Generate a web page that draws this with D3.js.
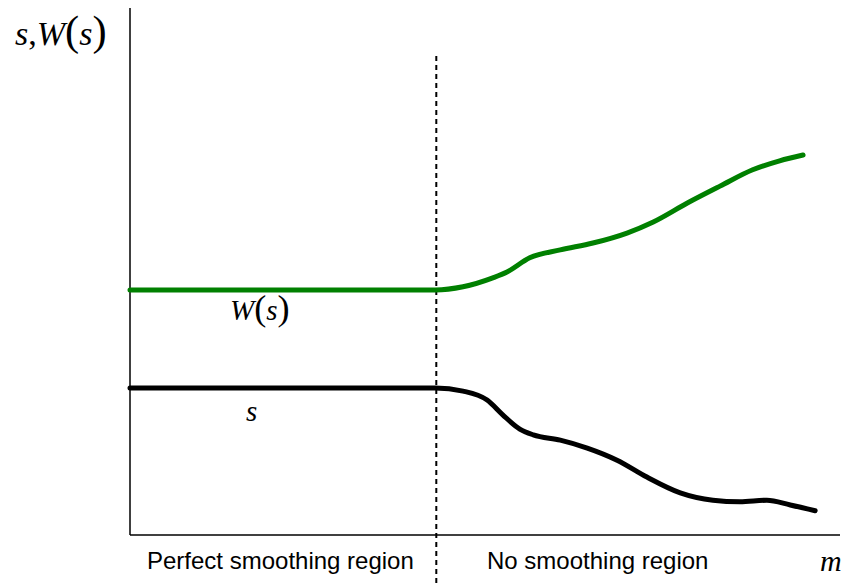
<!DOCTYPE html>
<html>
<head>
<meta charset="utf-8">
<script src="https://cdn.jsdelivr.net/npm/d3@7"></script>
<style>
  body { margin: 0; background: #fff; }
  svg { display: block; }
</style>
</head>
<body>
<div id="chart"></div>
<script>
// m values (x) and curve heights (y)
const greenM = [0, 43, 46.9, 51.1, 53.1, 56.3, 60.6, 65.2, 70, 73.7, 78.5, 83.1, 87.7, 91.5, 94.8];
const greenW = [46.5, 46.5, 47.1, 48.8, 49.9, 52.6, 54.1, 55.4, 57.3, 59.4, 63.0, 66.2, 69.3, 71.0, 72.1];
const blackM = [0, 43, 46.9, 50.3, 52.5, 54.9, 56.8, 60.6, 64.4, 68.6, 72.8, 77.5, 82.1, 85.9, 89.7, 93.0, 96.5];
const blackS = [27.9, 27.9, 27.3, 25.6, 22.8, 20.1, 19.0, 18.0, 16.5, 14.2, 11.0, 8.0, 6.6, 6.3, 6.6, 5.7, 4.6];
const boundaryM = 43;
const regionLabels = ['Perfect smoothing region', 'No smoothing region'];

const width = 851, height = 584;
const svg = d3.select('#chart').append('svg')
    .attr('width', width).attr('height', height);

const x = d3.scaleLinear().domain([0, 100]).range([130, 840]);
const y = d3.scaleLinear().domain([0, 100]).range([535, 8]);

// axes (plain lines, no ticks)
svg.append('line').attr('x1', x(0)).attr('x2', x(0)).attr('y1', y(0)).attr('y2', y(100))
    .attr('stroke', '#000').attr('stroke-width', 1.5);
svg.append('line').attr('x1', x(0)).attr('x2', x(100)).attr('y1', y(0)).attr('y2', y(0))
    .attr('stroke', '#000').attr('stroke-width', 1.5);

// dashed boundary
svg.append('line').attr('x1', x(boundaryM) + 1).attr('x2', x(boundaryM) + 1)
    .attr('y1', 56).attr('y2', height)
    .attr('stroke', '#000').attr('stroke-width', 2).attr('stroke-dasharray', '5,4');

const line = d3.line().x((d) => x(d[0])).y((d) => y(d[1])).curve(d3.curveMonotoneX);

svg.append('path').datum(greenM.map((m, i) => [m, greenW[i]]))
    .attr('d', line).attr('fill', 'none')
    .attr('stroke', '#008000').attr('stroke-width', 5).attr('stroke-linecap', 'round');
svg.append('path').datum(blackM.map((m, i) => [m, blackS[i]]))
    .attr('d', line).attr('fill', 'none')
    .attr('stroke', '#000').attr('stroke-width', 5).attr('stroke-linecap', 'round');

// math-style labels
function mathLabel(parts, xPos, yPos, size) {
    const t = svg.append('text').attr('x', xPos).attr('y', yPos)
        .attr('font-family', '"Liberation Serif", "Times New Roman", serif')
        .attr('font-size', size).attr('fill', '#000');
    parts.forEach(([txt, kind]) => {
        const sp = t.append('tspan').text(txt);
        if (kind === 'i') sp.attr('font-style', 'italic');
        if (kind === 'p') sp.attr('font-size', size * 1.25);
    });
    return t;
}
mathLabel([['s', 'i'], [',', ''], ['W', 'i'], ['(', 'p'], ['s', 'i'], [')', 'p']], 15, 45, 34);
mathLabel([['W', 'i'], ['(', 'p'], ['s', 'i'], [')', 'p']], 230, 320, 29);
mathLabel([['s', 'i']], 246, 421, 29);
mathLabel([['m', 'i']], 820, 571, 30);

// region labels
svg.selectAll('text.region').data(regionLabels).enter().append('text')
    .attr('class', 'region')
    .attr('x', (d, i) => i === 0 ? 147 : 487)
    .attr('y', 569)
    .attr('font-family', '"Liberation Sans", Arial, sans-serif')
    .attr('font-size', 24)
    .attr('fill', '#000')
    .text((d) => d);
</script>
</body>
</html>
